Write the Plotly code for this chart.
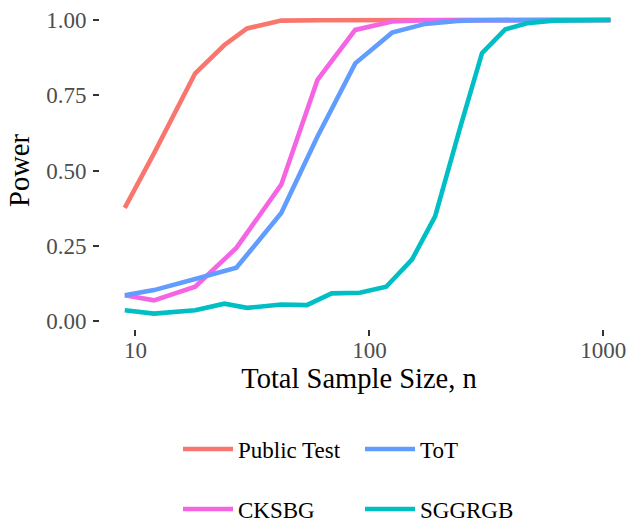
import plotly.graph_objects as go

# ---- data ----
series_names = ["Public Test", "CKSBG", "ToT", "SGGRGB"]
series_colors = ["#F8766D", "#F564E3", "#619CFF", "#00BFC4"]

n_public = [9, 12, 18, 24, 30, 42, 60, 87, 125, 173, 245, 381, 611, 1072]
power_public = [0.376, 0.557, 0.823, 0.917, 0.972, 0.998, 0.999, 1.0, 1.0, 1.0, 1.0, 1.0, 1.0, 1.0]

n_cksbg = [9, 12, 18, 27, 42, 60, 87, 125, 173, 245, 381, 611, 1072]
power_cksbg = [0.086, 0.069, 0.114, 0.243, 0.453, 0.801, 0.967, 0.995, 0.999, 1.0, 1.0, 1.0, 1.0]

n_tot = [9, 12, 18, 27, 42, 60, 87, 125, 173, 238, 303, 381, 611, 1072]
power_tot = [0.086, 0.103, 0.140, 0.177, 0.359, 0.613, 0.856, 0.958, 0.987, 0.997, 0.999, 1.0, 1.0, 1.0]

n_sggrgb = [9, 12, 18, 24, 30, 42, 54, 69, 91, 118, 152, 191, 245, 303, 381, 472, 611, 772, 1072]
power_sggrgb = [0.036, 0.025, 0.036, 0.058, 0.044, 0.055, 0.053, 0.092, 0.094, 0.114, 0.204,
                0.348, 0.646, 0.890, 0.969, 0.989, 0.998, 1.0, 1.0]

x_tick_vals = [10, 100, 1000]
x_tick_text = ["10", "100", "1000"]
y_tick_vals = [0, 0.25, 0.5, 0.75, 1.0]
y_tick_text = ["0.00", "0.25", "0.50", "0.75", "1.00"]

xs = [n_public, n_cksbg, n_tot, n_sggrgb]
ys = [power_public, power_cksbg, power_tot, power_sggrgb]
legend_ids = ["legend", "legend2", "legend", "legend2"]

FONT = "Liberation Serif"
W, H = 630, 518

fig = go.Figure()
for name, color, x, y, lg in zip(series_names, series_colors, xs, ys, legend_ids):
    fig.add_trace(go.Scatter(x=x, y=y, mode="lines", name=name,
                             line=dict(color=color, width=4.6),
                             legend=lg))

left, right, top, bottom = 99.5, 618, 12, 329.5
# log axis: 10 at px 135, 1000 at px 603.3
dec = (603.3 - 135) / 2
x0 = 1 - (135 - left) / dec
x1 = 1 + (right - 135) / dec
# y: 1.00 at px 20, 0.00 at px 321.6
upp = (321.6 - 20) / 1.0
y0 = -(bottom - 321.6) / upp
y1 = 1 + (20 - top) / upp

legend_common = dict(orientation="h", xref="container", yref="container",
                     xanchor="left", yanchor="middle",
                     font=dict(family=FONT, size=23, color="black"),
                     bgcolor="rgba(0,0,0,0)", borderwidth=0,
                     entrywidthmode="pixels", entrywidth=117, itemwidth=50,
                     tracegroupgap=0, traceorder="normal")

fig.update_layout(
    width=W, height=H,
    margin=dict(l=left, r=W - right, t=top, b=H - bottom, pad=0, autoexpand=False),
    paper_bgcolor="white", plot_bgcolor="white",
    font=dict(family=FONT, color="black"),
    showlegend=True,
    legend=dict(**legend_common, x=178 / W, y=1 - 449 / H),
    legend2=dict(**legend_common, x=178 / W, y=1 - 509 / H),
    xaxis=dict(type="log", range=[x0, x1], tickvals=x_tick_vals, ticktext=x_tick_text,
               showgrid=False, zeroline=False, showline=False,
               ticks="outside", ticklen=6, tickwidth=2, tickcolor="#333333",
               tickfont=dict(family=FONT, size=23, color="#4D4D4D"),
               ticklabelstandoff=-6,
               automargin=False,
               title=dict(text="Total Sample Size, n", font=dict(family=FONT, size=28.5, color="black"),
                          standoff=4)),
    yaxis=dict(range=[y0, y1], tickvals=y_tick_vals, ticktext=y_tick_text,
               showgrid=False, zeroline=False, showline=False,
               ticks="outside", ticklen=6, tickwidth=2, tickcolor="#333333",
               tickfont=dict(family=FONT, size=23, color="#4D4D4D"),
               ticklabelstandoff=2,
               automargin=False,
               title=dict(text="Power", font=dict(family=FONT, size=28.5, color="black"),
                          standoff=8)),
)

fig.write_html("out.html")
